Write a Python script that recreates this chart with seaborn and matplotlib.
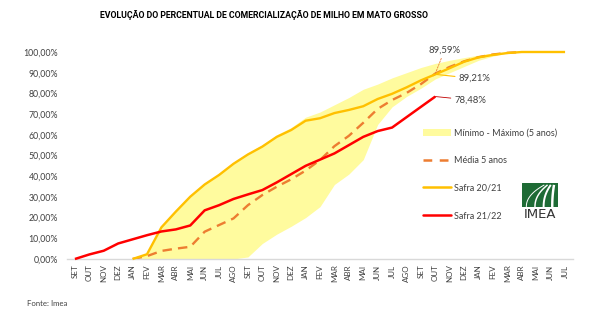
import numpy as np
import pandas as pd
import matplotlib
matplotlib.use("Agg")
import matplotlib.pyplot as plt
import seaborn as sns
from matplotlib.lines import Line2D
from matplotlib.patches import Patch, Rectangle

# ---------------- data ----------------
months = ["SET", "OUT", "NOV", "DEZ", "JAN", "FEV", "MAR", "ABR", "MAI", "JUN", "JUL", "AGO",
          "SET", "OUT", "NOV", "DEZ", "JAN", "FEV", "MAR", "ABR", "MAI", "JUN", "JUL", "AGO",
          "SET", "OUT", "NOV", "DEZ", "JAN", "FEV", "MAR", "ABR", "MAI", "JUN", "JUL"]

# Safra 21/22 starts at month index 0
safra_2122_start = 0
safra_2122 = [0.0, 2.2, 4.0, 7.5, 9.5, 11.5, 13.3, 14.3, 16.2, 23.5, 26.0, 29.0, 31.2,
              33.3, 37.0, 41.0, 45.0, 48.0, 51.0, 55.0, 59.0, 61.8, 63.5, 68.5, 73.5, 78.48]

# Safra 20/21 starts at month index 4 (JAN)
safra_2021_start = 4
safra_2021 = [0.0, 2.3, 15.3, 22.9, 30.1, 36.0, 40.6, 46.0, 50.5, 54.3, 59.0, 62.3, 66.8,
              68.0, 70.5, 72.0, 73.8, 77.3, 79.8, 82.9, 86.3, 89.21, 92.2, 95.3, 97.4,
              98.6, 99.5, 100.0, 100.0, 100.0, 100.0]

# Média 5 anos starts at month index 4 (JAN)
media_start = 4
media_5anos = [0.0, 1.4, 3.9, 5.0, 5.9, 13.2, 16.4, 19.6, 26.0, 30.9, 34.9, 38.5, 42.7,
               47.8, 54.5, 59.5, 65.8, 72.5, 76.8, 80.2, 84.5, 89.59, 92.8, 95.5, 97.5,
               98.8, 99.6, 100.0]

# Mínimo - Máximo (5 anos) starts at month index 4 (JAN)
band_start = 4
band_max = [0.0, 2.5, 15.5, 23.2, 30.5, 36.8, 41.2, 46.8, 51.2, 55.2, 60.0, 63.5, 68.5,
            71.0, 74.5, 78.0, 82.0, 84.5, 87.5, 90.0, 92.5, 94.5, 96.0, 97.3, 98.5,
            99.5, 100.0, 100.0]
band_min = [0.0, 0.0, 0.0, 0.0, 0.0, 0.0, 0.0, 0.0, 1.0, 7.5, 12.0, 15.8, 20.0,
            25.3, 36.0, 41.0, 48.0, 65.0, 73.5, 78.5, 82.5, 87.0, 90.0, 93.0, 96.0,
            98.0, 99.5, 100.0]

labels = ["Mínimo - Máximo (5 anos)", "Média 5 anos", "Safra 20/21", "Safra 21/22"]
title = "EVOLUÇÃO DO PERCENTUAL DE COMERCIALIZAÇÃO DE MILHO EM MATO GROSSO"
source = "Fonte: Imea"


def frame(start, values):
    return pd.DataFrame({"x": np.arange(start, start + len(values)), "y": values})


df_2122 = frame(safra_2122_start, safra_2122)
df_2021 = frame(safra_2021_start, safra_2021)
df_media = frame(media_start, media_5anos)
df_band = pd.DataFrame({"x": np.arange(band_start, band_start + len(band_max)),
                        "lo": band_min, "hi": band_max})

# ---------------- style ----------------
sns.set_theme(style="white")
plt.rcParams["font.family"] = ["Lato", "DejaVu Sans"]

C_RED = "#FF0000"
C_YEL = "#FFC000"
C_ORG = "#ED7D31"
C_BAND = "#FFFB9E"
C_TXT = "#404040"

fig = plt.figure(figsize=(6.07, 3.28), dpi=100)
ax = fig.add_axes([67 / 607, 69 / 328, 506 / 607, 207 / 328])

ax.fill_between(df_band["x"], df_band["lo"], df_band["hi"], color=C_BAND, lw=0, zorder=1)
sns.lineplot(data=df_media, x="x", y="y", ax=ax, color=C_ORG, lw=1.7, zorder=2)
ax.lines[-1].set_dashes([4, 2.6])
sns.lineplot(data=df_2021, x="x", y="y", ax=ax, color=C_YEL, lw=1.7, zorder=3)
sns.lineplot(data=df_2122, x="x", y="y", ax=ax, color=C_RED, lw=1.8, zorder=4)
for ln in ax.lines:
    ln.set_clip_on(False)
    ln.set_solid_capstyle("butt")

ax.set_xlim(-0.55, len(months) - 0.45)
ax.set_ylim(0, 100)
ax.set_xlabel("")
ax.set_ylabel("")
ax.set_xticks(np.arange(len(months)))
ax.set_xticklabels(months, rotation=90, fontsize=5.8, color=C_TXT)
yt = np.arange(0, 101, 10)
ax.set_yticks(yt)
ax.set_yticklabels([f"{v:.2f}".replace(".", ",") + "%" for v in yt], fontsize=6.3, color=C_TXT)
ax.tick_params(axis="x", length=0, pad=4)
ax.tick_params(axis="y", length=0, pad=6.5)
for s in ["top", "right", "left"]:
    ax.spines[s].set_visible(False)
ax.spines["bottom"].set_color("#D9D9D9")
ax.spines["bottom"].set_linewidth(1.0)
ax.grid(False)

# ---------------- annotations ----------------
def fmt(v):
    return f"{v:.2f}".replace(".", ",") + "%"

i_m = 25 - media_start
ax.annotate(fmt(media_5anos[i_m]), xy=(25, media_5anos[i_m]), xytext=(6.5, 16.5),
            textcoords="offset points", ha="center", va="center", fontsize=6.8, color=C_TXT,
            arrowprops=dict(arrowstyle="-", color=C_ORG, lw=0.6, linestyle=(0, (2, 1.5)),
                            shrinkA=0, shrinkB=0), zorder=6)
i_y = 25 - safra_2021_start
ax.annotate(fmt(safra_2021[i_y]), xy=(25, safra_2021[i_y]), xytext=(16.5, -3),
            textcoords="offset points", ha="left", va="center", fontsize=6.8, color=C_TXT,
            arrowprops=dict(arrowstyle="-", color=C_YEL, lw=0.8, shrinkA=0, shrinkB=0), zorder=6)
i_r = 25 - safra_2122_start
ax.annotate(fmt(safra_2122[i_r]), xy=(25, safra_2122[i_r]), xytext=(13.5, -2.5),
            textcoords="offset points", ha="left", va="center", fontsize=6.8, color=C_TXT,
            arrowprops=dict(arrowstyle="-", color="#C00000", lw=0.6, shrinkA=0, shrinkB=0), zorder=6)

# ---------------- legend ----------------
handles = [Patch(facecolor=C_BAND, edgecolor="none"),
           Line2D([], [], color=C_ORG, lw=1.8, dashes=[3.5, 3]),
           Line2D([], [], color=C_YEL, lw=1.8),
           Line2D([], [], color=C_RED, lw=1.8)]
leg = fig.legend(handles, labels, loc="upper left",
                 bbox_to_anchor=(418 / 607, 1 - 124 / 328), frameon=False, fontsize=6.5,
                 handlelength=3.1, handleheight=0.7, handletextpad=0.35, labelspacing=2.05,
                 borderpad=0)
for t in leg.get_texts():
    t.set_color(C_TXT)

# ---------------- logo ----------------
lax = fig.add_axes([522 / 607, 1 - 207 / 328, 36 / 607, 24 / 328])
lax.add_patch(Rectangle((0, 0), 1, 1, color="#1E6B35"))
tt = np.linspace(0, 1, 60)
for k in range(4):
    x_top = 0.62 + 0.09 * k
    x_bot = 0.12 + 0.24 * k
    xs = x_top + (x_bot - x_top) * (1 - (1 - tt) ** 2.2)
    ys = 0.92 - 0.92 * tt
    lax.plot(xs, ys, color="white", lw=0.7 + 0.35 * k, solid_capstyle="butt")
lax.set_xlim(0, 1)
lax.set_ylim(0, 1)
lax.axis("off")
fig.text(540 / 607, 1 - 215 / 328, "IMEA", ha="center", va="center", fontsize=9.5,
         color="#333333", family=["Liberation Sans Narrow", "DejaVu Sans"])

# ---------------- title / source ----------------
fig.text(263.5 / 607, 1 - 15 / 328, title, ha="center", va="center", fontsize=6.3,
         fontweight="bold", color="#000000", family=["Roboto", "DejaVu Sans"])
fig.text(27 / 607, 1 - 303 / 328, source, ha="left", va="center", fontsize=5.6, color=C_TXT)

fig.savefig("out.png", dpi=100)
